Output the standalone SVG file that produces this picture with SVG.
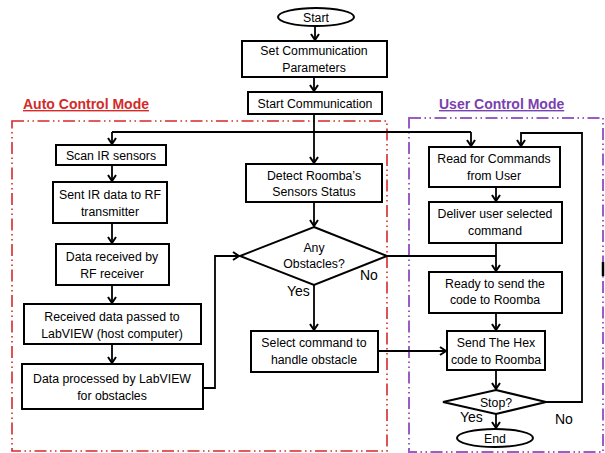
<svg xmlns="http://www.w3.org/2000/svg" width="605" height="453" viewBox="0 0 605 453">
<defs>
<marker id="ah" markerWidth="10" markerHeight="10" refX="7" refY="5" orient="auto" markerUnits="userSpaceOnUse">
<path d="M1,1 L7,5 L1,9" fill="none" stroke="#000" stroke-width="2"/>
</marker>
<style>
.box{fill:#fff;stroke:#000;stroke-width:2}
.t{font-family:"Liberation Sans",Arial,sans-serif;font-size:12.3px;fill:#000;text-anchor:middle}
.lbl{font-family:"Liberation Sans",Arial,sans-serif;font-size:14px;fill:#000}
.c{fill:none;stroke:#000;stroke-width:1.8}
.ca{fill:none;stroke:#000;stroke-width:1.8;marker-end:url(#ah)}
.mode{font-family:"Liberation Sans",Arial,sans-serif;font-size:14px;font-weight:bold;text-decoration:underline}
</style>
</defs>
<rect width="605" height="453" fill="#fff"/>
<g id="frames">
<rect x="12" y="121" width="375" height="330" fill="none" stroke="#d42a2a" stroke-width="1.6" stroke-dasharray="12 3.5 1.5 3.5 1.5 3.5"/>
<rect x="409" y="118" width="194" height="334" fill="none" stroke="#9a5cc6" stroke-width="2" stroke-dasharray="12 3.5 1.5 3.5 1.5 3.5"/>
<text class="mode" x="23" y="109" fill="#d42a2a">Auto Control Mode</text>
<text class="mode" x="439" y="109" fill="#7a3fb0">User Control Mode</text>
<line x1="603" y1="262" x2="603" y2="276" stroke="#000" stroke-width="2.5"/>
</g>
<g id="connectors">
<path class="ca" d="M315,26 V40"/>
<path class="ca" d="M314,77 V91"/>
<path class="ca" d="M314,114 V163"/>
<path class="c" d="M112,132 H471"/>
<path class="ca" d="M112,132 V144"/>
<path class="ca" d="M471,132 V146"/>
<path class="ca" d="M112,165 V181"/>
<path class="ca" d="M112,223 V243"/>
<path class="ca" d="M112,285 V303"/>
<path class="ca" d="M112,344 V363"/>
<path class="ca" d="M203,388 H215 V256 H239"/>
<path class="ca" d="M314,202 V226"/>
<path class="c" d="M387,256 H496"/>
<path class="ca" d="M314,285 V330"/>
<path class="ca" d="M378,351 H446"/>
<path class="ca" d="M496,187 V201"/>
<path class="ca" d="M496,243 V271"/>
<path class="ca" d="M496,313 V330"/>
<path class="ca" d="M496,370 V389"/>
<path class="ca" d="M496,414 V428"/>
<path class="ca" d="M546,402 H582 V133 H521 V146"/>
</g>
<g id="start">
<ellipse cx="316" cy="17" rx="38" ry="9" class="box"/>
<text class="t" x="316" y="22">Start</text>
</g>
<g id="setparams">
<rect x="242" y="41" width="145" height="36" class="box"/>
<text class="t" x="314" y="55">Set Communication</text>
<text class="t" x="314" y="72">Parameters</text>
</g>
<g id="startcomm">
<rect x="248" y="92" width="134" height="22" class="box"/>
<text class="t" x="315" y="108">Start Communication</text>
</g>
<g id="scan">
<rect x="56" y="145" width="110" height="20" class="box"/>
<text class="t" x="111" y="160">Scan IR sensors</text>
</g>
<g id="sent">
<rect x="53" y="182" width="114" height="41" class="box"/>
<text class="t" x="110" y="199">Sent IR data to RF</text>
<text class="t" x="110" y="216">transmitter</text>
</g>
<g id="received">
<rect x="56" y="244" width="113" height="41" class="box"/>
<text class="t" x="112" y="261">Data received by</text>
<text class="t" x="112" y="278">RF receiver</text>
</g>
<g id="passed">
<rect x="24" y="304" width="177" height="40" class="box"/>
<text class="t" x="112" y="321">Received data passed to</text>
<text class="t" x="112" y="338">LabVIEW (host computer)</text>
</g>
<g id="processed">
<rect x="22" y="364" width="181" height="45" class="box"/>
<text class="t" x="112" y="383">Data processed  by LabVIEW</text>
<text class="t" x="112" y="400">for obstacles</text>
</g>
<g id="detect">
<rect x="246" y="164" width="136" height="38" class="box"/>
<text class="t" x="314" y="180">Detect Roomba’s</text>
<text class="t" x="314" y="196">Sensors Status</text>
</g>
<g id="obstacles">
<polygon points="314,227 387,256 314,285 240,256" class="box"/>
<text class="t" x="314" y="252">Any</text>
<text class="t" x="314" y="268">Obstacles?</text>
<text class="lbl" x="360" y="280">No</text>
<text class="lbl" x="287" y="296">Yes</text>
</g>
<g id="select">
<rect x="251" y="331" width="127" height="41" class="box"/>
<text class="t" x="314" y="347">Select command to</text>
<text class="t" x="314" y="364">handle obstacle</text>
</g>
<g id="read">
<rect x="429" y="147" width="131" height="40" class="box"/>
<text class="t" x="494" y="163">Read for Commands</text>
<text class="t" x="494" y="180">from User</text>
</g>
<g id="deliver">
<rect x="429" y="202" width="133" height="41" class="box"/>
<text class="t" x="495" y="218">Deliver user selected</text>
<text class="t" x="495" y="235">command</text>
</g>
<g id="ready">
<rect x="429" y="272" width="133" height="41" class="box"/>
<text class="t" x="495" y="288">Ready to send the</text>
<text class="t" x="495" y="304">code to Roomba</text>
</g>
<g id="sendhex">
<rect x="447" y="331" width="98" height="39" class="box"/>
<text class="t" x="496" y="347">Send The Hex</text>
<text class="t" x="496" y="364">code to Roomba</text>
</g>
<g id="stop">
<polygon points="496,390 546,402 496,414 443,402" class="box"/>
<text class="t" x="496" y="407">Stop?</text>
<text class="lbl" x="460" y="422">Yes</text>
<text class="lbl" x="555" y="424">No</text>
</g>
<g id="end">
<ellipse cx="495" cy="438" rx="38" ry="9" class="box"/>
<text class="t" x="495" y="443">End</text>
</g>
</svg>
